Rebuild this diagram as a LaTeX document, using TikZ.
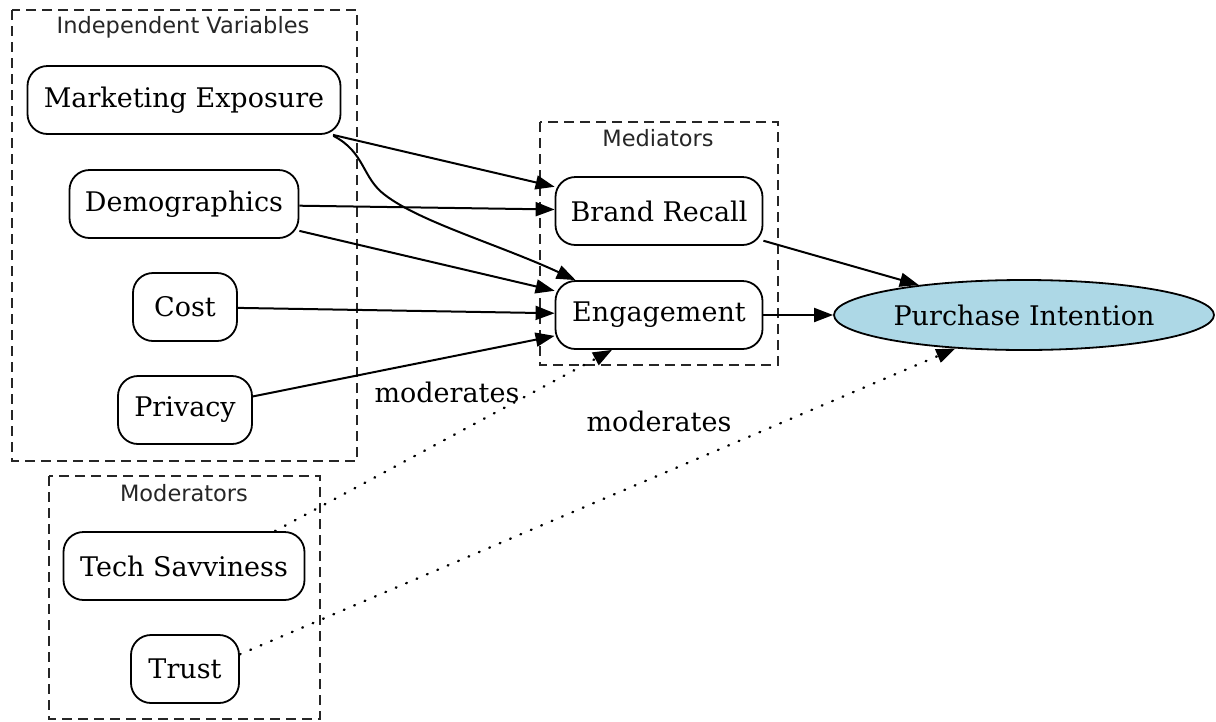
\documentclass[tikz,border=0pt]{standalone}
\usepackage{fontspec}
\setmainfont{DejaVu Serif}
\newfontfamily\clusterfont{DejaVu Sans}
\usetikzlibrary{shapes.geometric,arrows.meta,calc}
\definecolor{pilblue}{RGB}{173,216,230}
\begin{document}
\begin{tikzpicture}[x=1pt,y=-1pt,
  varbox/.style={draw,line width=1.8pt,rounded corners=20pt,minimum height=68pt,inner sep=0pt,
    font=\fontsize{27}{32}\selectfont},
  cluster/.style={draw,line width=1.8pt,dash pattern=on 10pt off 6pt,color=black!85},
  clabel/.style={font=\clusterfont\fontsize{22.5}{26}\selectfont,text=black!85},
  edge/.style={line width=2pt,-{Triangle[length=19pt,width=14pt]}},
  modedge/.style={line width=2.4pt,dash pattern=on 0.8pt off 10.5pt,line cap=round,-{Triangle[length=19pt,width=14pt]}},
  elabel/.style={font=\fontsize{27}{32}\selectfont}]
\useasboundingbox (0,0) rectangle (1216,721);
% clusters
\draw[cluster] (12,10) rectangle (357,461);
\node[clabel] (ivlab) at (183,27) {Independent Variables};
\draw[cluster] (540,122) rectangle (778,365);
\node[clabel] (medlab) at (658,138) {Mediators};
\draw[cluster] (49,476) rectangle (320,719);
\node[clabel] (modlab) at (184,493) {Moderators};
% nodes
\node[varbox,minimum width=313pt] (me) at (184,100) {Marketing Exposure};
\node[varbox,minimum width=229pt] (demo) at (184,204) {Demographics};
\node[varbox,minimum width=104pt] (cost) at (185,307) {Cost};
\node[varbox,minimum width=134pt] (priv) at (185,410) {Privacy};
\node[varbox,minimum width=207pt] (br) at (659,211) {Brand Recall};
\node[varbox,minimum width=207pt] (eng) at (659,315) {Engagement};
\node[ellipse,draw,line width=1.8pt,fill=pilblue,minimum width=380pt,minimum height=70pt,inner sep=0pt,
  font=\fontsize{27}{32}\selectfont] (pi) at (1024,315) {Purchase Intention};
\node[varbox,minimum width=241pt] (tech) at (184,566) {Tech Savviness};
\node[varbox,minimum width=108pt] (trust) at (185,669) {Trust};
% edges
\draw[edge] (me) -- (br);
\draw[edge] ($(me.south east)+(-8,1)$) .. controls (365,152) and (362,178) .. (385,195)
  .. controls (420,222) and (500,245) .. ($(eng.north west)+(21,0)$);
\draw[edge] (demo) -- (br);
\draw[edge] (demo) -- (eng);
\draw[edge] (cost) -- (eng);
\draw[edge] (priv) -- (eng);
\draw[edge] (br) -- (pi);
\draw[edge] (eng) -- (pi);
\draw[modedge] (tech.21) -- ($(eng.south)+(-47,0)$);
\draw[modedge] (trust.15) -- (pi.206);
% labels
\node[elabel] (m1) at (447,392) {moderates};
\node[elabel] (m2) at (659,421) {moderates};
\end{tikzpicture}
\end{document}
